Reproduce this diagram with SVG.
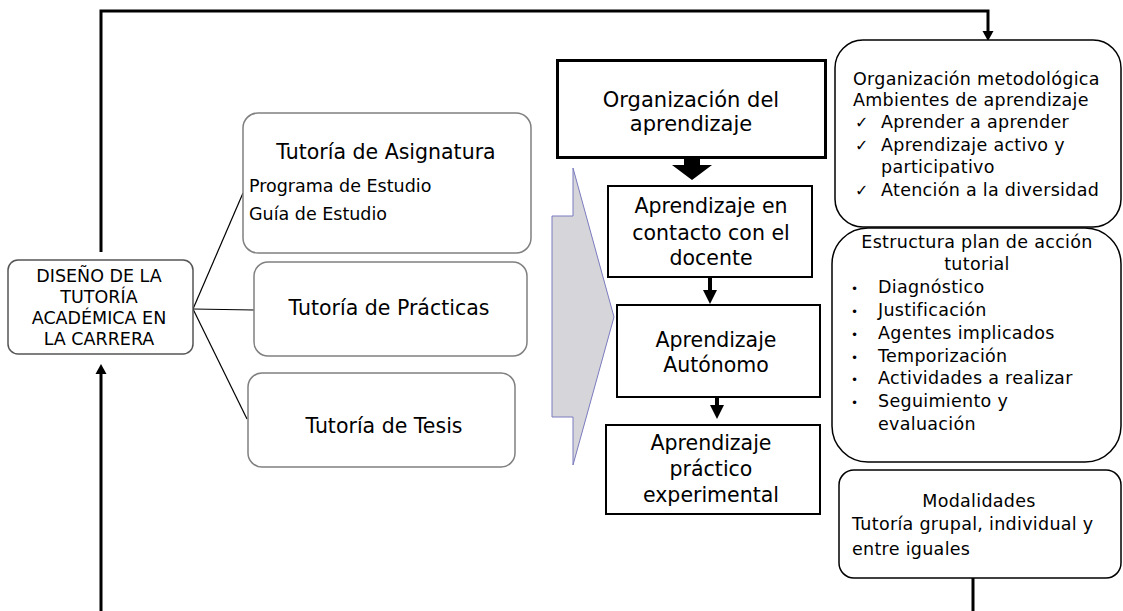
<svg xmlns="http://www.w3.org/2000/svg" width="1123" height="611" viewBox="0 0 1123 611">
<style>
text{font-family:"DejaVu Sans","Verdana",sans-serif;fill:#000}
.tb{fill:#fff;stroke:#808080;stroke-width:1.5}
.bx{fill:#fff;stroke:#000;stroke-width:2}
.rb{fill:#fff;stroke:#000;stroke-width:1.5}
.c{text-anchor:middle}
.l20{font-size:20.5px}
.r{font-size:17.5px;letter-spacing:0.3px}
.ck{font-size:16px}
.bu{font-size:12px}
.thin{stroke:#000;stroke-width:1.2;fill:none}
.thick{stroke:#000;stroke-width:3;fill:none}
</style>
<rect width="1123" height="611" fill="#fff"/>
<g id="chevron">
<polygon points="573,168 573,216 552,216 552,417 573,417 573,465 614,317" fill="#d6d5d9" stroke="#7b7bbf" stroke-width="1"/>
</g>
<g id="connectors">
<path class="thick" d="M101 252 V11 H988 V33"/>
<polygon points="982.500,31 993.500,31 988,41"/>
<path class="thick" d="M101 611 V372"/>
<polygon points="95.500,374 106.500,374 101,364"/>
<path class="thick" d="M973 578 V611"/>
<line class="thin" x1="193" y1="309" x2="243" y2="193"/>
<line class="thin" x1="193" y1="309" x2="254" y2="310"/>
<line class="thin" x1="193" y1="309" x2="247" y2="419"/>
<polygon points="684,158 700,158 700,165 712,165 692,180 672,165 684,165"/>
<line x1="710" y1="277" x2="710" y2="292" stroke="#000" stroke-width="4"/>
<polygon points="703,290 717,290 710,304"/>
<line x1="717" y1="397" x2="717" y2="407" stroke="#000" stroke-width="4"/>
<polygon points="710,405 724,405 717,419"/>
</g>
<g id="n-diseno">
<rect x="8" y="260" width="185" height="94" rx="10" fill="#fff" stroke="#555" stroke-width="1.5"/>
<text class="c" x="99" y="282" font-size="17.5">DISEÑO DE LA</text>
<text class="c" x="99" y="303" font-size="17.5">TUTORÍA</text>
<text class="c" x="99" y="324" font-size="17.5">ACADÉMICA EN</text>
<text class="c" x="99" y="345" font-size="17.5">LA CARRERA</text>
</g>
<g id="n-asignatura">
<rect class="tb" x="243" y="113" width="288" height="140" rx="15"/>
<text class="c l20" x="386" y="159">Tutoría de Asignatura</text>
<text x="249" y="192" font-size="17.5">Programa de Estudio</text>
<text x="249" y="220" font-size="17.5">Guía de Estudio</text>
</g>
<g id="n-practicas">
<rect class="tb" x="254" y="262" width="273" height="94" rx="14"/>
<text class="c l20" x="389" y="315">Tutoría de Prácticas</text>
</g>
<g id="n-tesis">
<rect class="tb" x="248" y="373" width="267" height="94" rx="14"/>
<text class="c l20" x="384" y="433">Tutoría de Tesis</text>
</g>
<g id="n-organizacion">
<rect x="557.500" y="60.500" width="268" height="97" fill="#fff" stroke="#000" stroke-width="3"/>
<text class="c" x="691" y="107" font-size="21">Organización del</text>
<text class="c" x="691" y="131" font-size="21">aprendizaje</text>
</g>
<g id="n-contacto">
<rect class="bx" x="608" y="186" width="204" height="91"/>
<text class="c l20" x="711" y="213">Aprendizaje en</text>
<text class="c l20" x="711" y="240">contacto con el</text>
<text class="c l20" x="711" y="265">docente</text>
</g>
<g id="n-autonomo">
<rect class="bx" x="617" y="305" width="203" height="92"/>
<text class="c l20" x="716" y="347">Aprendizaje</text>
<text class="c l20" x="716" y="372">Autónomo</text>
</g>
<g id="n-practico">
<rect class="bx" x="606" y="425" width="214" height="89"/>
<text class="c l20" x="711" y="450">Aprendizaje</text>
<text class="c l20" x="711" y="476">práctico</text>
<text class="c l20" x="711" y="502">experimental</text>
</g>
<g id="n-metodologica">
<rect class="rb" x="835" y="40" width="286" height="187" rx="28"/>
<text class="r" x="853" y="85">Organización metodológica</text>
<text class="r" x="853" y="106">Ambientes de aprendizaje</text>
<text class="ck" x="855" y="128">✓</text>
<text class="r" x="881" y="128">Aprender a aprender</text>
<text class="ck" x="855" y="151">✓</text>
<text class="r" x="881" y="151">Aprendizaje activo y</text>
<text class="r" x="881" y="173">participativo</text>
<text class="ck" x="855" y="196">✓</text>
<text class="r" x="881" y="196">Atención a la diversidad</text>
</g>
<g id="n-estructura">
<rect class="rb" x="832" y="228" width="289" height="234" rx="36"/>
<text class="r c" x="977" y="248">Estructura plan de acción</text>
<text class="r c" x="977" y="270">tutorial</text>
<text class="bu" x="851" y="293">•</text>
<text class="r" x="878" y="293">Diagnóstico</text>
<text class="bu" x="851" y="316">•</text>
<text class="r" x="878" y="316">Justificación</text>
<text class="bu" x="851" y="339">•</text>
<text class="r" x="878" y="339">Agentes implicados</text>
<text class="bu" x="851" y="362">•</text>
<text class="r" x="878" y="362">Temporización</text>
<text class="bu" x="851" y="384">•</text>
<text class="r" x="878" y="384">Actividades a realizar</text>
<text class="bu" x="851" y="407">•</text>
<text class="r" x="878" y="407">Seguimiento y</text>
<text class="r" x="878" y="430">evaluación</text>
</g>
<g id="n-modalidades">
<rect class="rb" x="839" y="470" width="282" height="108" rx="15"/>
<text class="r c" x="979" y="507">Modalidades</text>
<text class="r" x="852" y="530">Tutoría grupal, individual y</text>
<text class="r" x="852" y="555">entre iguales</text>
</g>
</svg>
